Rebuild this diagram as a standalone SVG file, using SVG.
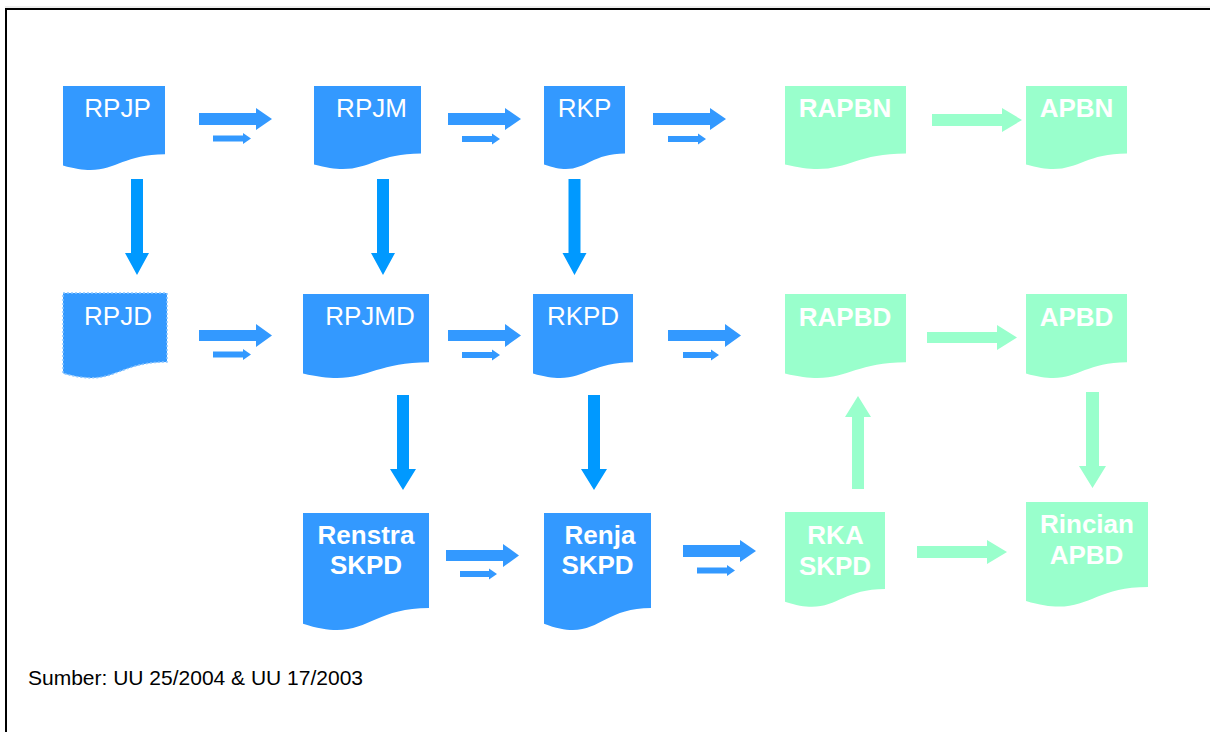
<svg xmlns="http://www.w3.org/2000/svg" width="1210" height="732" viewBox="0 0 1210 732">
<style>
.blue{fill:#3399FF}
.green{fill:#99FFCC}
.dblue{fill:#0099FF}
.lbl{font-family:"Liberation Sans",Arial,sans-serif;font-size:26px;fill:#FFFFFF;text-anchor:middle}
.b{font-weight:bold}
.foot{font-family:"Liberation Sans",Arial,sans-serif;font-size:21px;fill:#000000}
</style>
<rect x="0" y="0" width="1210" height="732" fill="#FFFFFF"/>
<line x1="5" y1="7" x2="1210" y2="7" stroke="#DDDDDD" stroke-width="1"/>
<path d="M6,732 V9 H1210" fill="none" stroke="#000000" stroke-width="2"/>

<g id="node-rpjp"><path class="blue" d="M63,86 H165 V154.2 C114,154.2 114,180.1 63,165.4 Z"/><text class="lbl" x="117.5" y="117">RPJP</text></g>
<g id="node-rpjm"><path class="blue" d="M314,86 H421 V153.4 C367.5,153.4 367.5,179 314,164.5 Z"/><text class="lbl" x="371.5" y="117">RPJM</text></g>
<g id="node-rkp"><path class="blue" d="M544,86 H625 V153.4 C584.5,153.4 584.5,179 544,164.5 Z"/><text class="lbl" x="584.5" y="117">RKP</text></g>
<g id="node-rapbn"><path class="green" d="M785,86 H906 V153.4 C845.5,153.4 845.5,179 785,164.5 Z"/><text class="lbl b" x="845" y="117">RAPBN</text></g>
<g id="node-apbn"><path class="green" d="M1026,86 H1127 V153.4 C1076.5,153.4 1076.5,179 1026,164.5 Z"/><text class="lbl b" x="1076.5" y="117">APBN</text></g>

<g id="node-rpjd"><path class="blue" d="M63,293 H167 V362 C115,362 115,388.2 63,373.3 Z" stroke="#8CC6FF" stroke-width="1.5" stroke-dasharray="2,2"/><text class="lbl" x="118" y="325">RPJD</text></g>
<g id="node-rpjmd"><path class="blue" d="M303,294 H429 V362.2 C366,362.2 366,388.1 303,373.4 Z"/><text class="lbl" x="370" y="325">RPJMD</text></g>
<g id="node-rkpd"><path class="blue" d="M533,294 H633 V362.2 C583,362.2 583,388.1 533,373.4 Z"/><text class="lbl" x="583" y="325">RKPD</text></g>
<g id="node-rapbd"><path class="green" d="M785,294 H906 V362.2 C845.5,362.2 845.5,388.1 785,373.4 Z"/><text class="lbl b" x="845" y="326">RAPBD</text></g>
<g id="node-apbd"><path class="green" d="M1026,294 H1127 V362.2 C1076.5,362.2 1076.5,388.1 1026,373.4 Z"/><text class="lbl b" x="1076.5" y="326">APBD</text></g>

<g id="node-renstra"><path class="blue" d="M303,513 H429 V608 C366,608 366,644.2 303,623.7 Z"/><text class="lbl b" x="366" y="544">Renstra</text><text class="lbl b" x="366" y="574">SKPD</text></g>
<g id="node-renja"><path class="blue" d="M544,513 H651 V608 C597.5,608 597.5,644.2 544,623.7 Z"/><text class="lbl b" x="600" y="544">Renja</text><text class="lbl b" x="597.5" y="574">SKPD</text></g>
<g id="node-rka"><path class="green" d="M785,512 H885 V589 C835,589 835,618.3 785,601.7 Z"/><text class="lbl b" x="835.5" y="544">RKA</text><text class="lbl b" x="835" y="575">SKPD</text></g>
<g id="node-rincian"><path class="green" d="M1026,502 H1148 V587 C1087,587 1087,619.3 1026,601 Z"/><text class="lbl b" x="1087" y="533">Rincian</text><text class="lbl b" x="1086.5" y="564">APBD</text></g>

<g id="connectors">
<!-- big blue right arrows -->
<path class="blue" d="M199,113 H256 V108 L272,119 L256,130 V125 H199 Z"/>
<path class="blue" d="M213,135.5 H243 V133 L251,138.5 L243,144 V141.5 H213 Z"/>
<path class="blue" d="M448,113 H505 V108 L521,119 L505,130 V125 H448 Z"/>
<path class="blue" d="M462,136 H492 V133.5 L500,139 L492,144.5 V142 H462 Z"/>
<path class="blue" d="M653,113 H710 V108 L726,119 L710,130 V125 H653 Z"/>
<path class="blue" d="M668,136 H698 V133.5 L706,139 L698,144.5 V142 H668 Z"/>

<path class="blue" d="M199,330 H256 V324 L272,335.5 L256,347 V341 H199 Z"/>
<path class="blue" d="M213,351.5 H243 V349 L251,354.5 L243,360 V357.5 H213 Z"/>
<path class="blue" d="M448,330 H505 V324 L521,335.5 L505,347 V341 H448 Z"/>
<path class="blue" d="M462,352 H492 V349.5 L500,355 L492,360.5 V358 H462 Z"/>
<path class="blue" d="M668,330 H725 V324 L741,335.5 L725,347 V341 H668 Z"/>
<path class="blue" d="M683,352 H711 V349.5 L719,355 L711,360.5 V358 H683 Z"/>

<path class="blue" d="M446,550 H503 V544 L519,555.5 L503,567 V561 H446 Z"/>
<path class="blue" d="M460,571 H489 V568.5 L497,574 L489,579.5 V577 H460 Z"/>
<path class="blue" d="M683,545 H740 V540 L756,551 L740,562 V557 H683 Z"/>
<path class="blue" d="M697,567.5 H727 V565 L735,570.5 L727,576 V573.5 H697 Z"/>

<!-- blue down arrows -->
<path class="dblue" d="M131,179 H143 V253 H149 L137,275 L125,253 H131 Z"/>
<path class="dblue" d="M377,179 H389 V253 H395 L383,275 L371,253 H377 Z"/>
<path class="dblue" d="M568.5,179 H580.5 V253 H586.5 L574.5,275 L562.5,253 H568.5 Z"/>
<path class="dblue" d="M397,395 H409 V469 H416 L403,490 L390,469 H397 Z"/>
<path class="dblue" d="M588,395 H600 V469 H607 L594,490 L581,469 H588 Z"/>

<!-- green arrows -->
<path class="green" d="M932,114 H1002 V108 L1022,120 L1002,132 V126 H932 Z"/>
<path class="green" d="M927,332 H997 V325 L1017,337.5 L997,350 V343 H927 Z"/>
<path class="green" d="M917,546 H987 V540 L1007,552 L987,564 V558 H917 Z"/>
<path class="green" d="M852,489 V417 H845 L858,396 L871,417 H864 V489 Z"/>
<path class="green" d="M1086,392 H1099 V466 H1106 L1092.5,488 L1079,466 H1086 Z"/>
</g>

<text class="foot" x="28" y="685">Sumber: UU 25/2004 &amp; UU 17/2003</text>
</svg>
